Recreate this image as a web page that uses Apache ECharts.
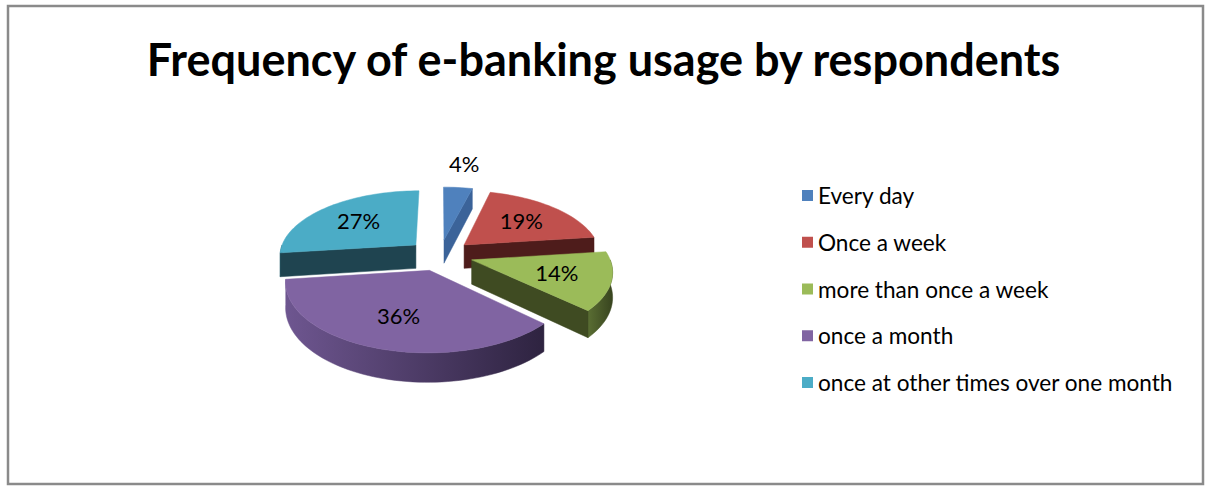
<!DOCTYPE html>
<html>
<head>
<meta charset="utf-8">
<style>
  html, body { margin: 0; padding: 0; background: #fff; }
  #chart { width: 1207px; height: 486px; }
</style>
<script src="https://cdn.jsdelivr.net/npm/echarts@6/dist/echarts.min.js"></script>
</head>
<body>
<div id="chart"></div>
<script>
// Survey answers: how often respondents use e-banking (percent of respondents)
const categories = [
  'Every day',
  'Once a week',
  'more than once a week',
  'once a month',
  'once at other times over one month'
];
const values = [4, 19, 14, 36, 27];

// Slice colours: top face, cut faces, outer wall (light -> dark)
const topColors  = ['#4F81BD', '#C0504D', '#9BBB59', '#8064A2', '#4BACC6'];
const cutColors  = ['#3B6399', '#4E1C1B', '#3F4B22', '#3C2F4F', '#1F4450'];
const wallLight  = ['#43699C', '#8E3B39', '#5A6E33', '#6E5690', '#2F7C90'];
const wallDark   = ['#2C4A72', '#5A2524', '#38441F', '#2E2340', '#1D4B58'];

// Geometry of the tilted, exploded pie (pixels)
const PIE = {
  cx: 440, cy: 255,     // centre of the un-exploded disk
  rx: 137, ry: 65,      // disk radii at mid depth
  depth: 24,            // thickness of the disk
  persp: 0.15,          // perspective: far side smaller, near side bigger
  explode: 0.24,        // slice pull-out, in radius units
  step: Math.PI / 90
};

const total = values.reduce((a, b) => a + b, 0);
const starts = [];
values.reduce((acc, v, i) => { starts[i] = acc; return acc + v; }, 0);

function sliceAngles(i) {
  const a0 = 2 * Math.PI * starts[i] / total;          // clockwise from 12 o'clock
  const a1 = 2 * Math.PI * (starts[i] + values[i]) / total;
  return { a0, a1, mid: (a0 + a1) / 2 };
}

// Projects a point of the disk (polar r, a in radius units; down = 0 top, 1 bottom)
function proj(r, a, off, down) {
  const X = r * Math.sin(a) + off.x;
  const Z = r * Math.cos(a) + off.z;
  const s = 1 / (1 + PIE.persp * Z);
  return [PIE.cx + PIE.rx * X * s, PIE.cy + (-PIE.ry * Z + PIE.depth * down) * s];
}

function arc(a0, a1, off, down) {
  const pts = [];
  const n = Math.max(2, Math.ceil((a1 - a0) / PIE.step));
  for (let k = 0; k <= n; k++) pts.push(proj(1, a0 + (a1 - a0) * k / n, off, down));
  return pts;
}

function renderSlice(i) {
  const { a0, a1, mid } = sliceAngles(i);
  const off = { x: PIE.explode * Math.sin(mid), z: PIE.explode * Math.cos(mid) };
  const children = [];
  const poly = (points, fill) => children.push({
    type: 'polygon', shape: { points }, style: { fill, stroke: fill, lineWidth: 0.5 }
  });

  // outer wall, front half only
  const w0 = Math.max(a0, Math.PI / 2), w1 = Math.min(a1, 3 * Math.PI / 2);
  if (w0 < w1) {
    const top = arc(w0, w1, off, 0);
    const bottom = arc(w0, w1, off, 1).reverse();
    const xs = top.map(p => p[0]);
    const minX = Math.min.apply(null, xs), maxX = Math.max.apply(null, xs);
    poly(top.concat(bottom), {
      type: 'linear', x: minX, y: 0, x2: maxX, y2: 0, global: true,
      colorStops: [{ offset: 0, color: wallLight[i] }, { offset: 1, color: wallDark[i] }]
    });
  }
  // cut faces that face the viewer
  const cut = a => [proj(0, a, off, 0), proj(1, a, off, 0), proj(1, a, off, 1), proj(0, a, off, 1)];
  if (Math.sin(a0) < -1e-6) poly(cut(a0), cutColors[i]);
  if (Math.sin(a1) > 1e-6) poly(cut(a1), cutColors[i]);

  // top face
  poly([proj(0, 0, off, 0)].concat(arc(a0, a1, off, 0)), topColors[i]);

  // percentage label
  const lr = values[i] < 6 ? 1.55 : 0.62;
  const lp = proj(lr, mid, off, 0);
  children.push({
    type: 'text',
    style: {
      text: values[i] + '%', x: lp[0], y: lp[1],
      fill: '#000', font: '22px Lato', align: 'center', verticalAlign: 'middle',
      textAlign: 'center', textVerticalAlign: 'middle'
    }
  });
  return { type: 'group', children };
}

// Back-to-front drawing order from the depth of each slice's centre
const depthOf = i => Math.cos(sliceAngles(i).mid);
const order = categories.map((_, i) => i).sort((p, q) => depthOf(q) - depthOf(p));

const series = categories.map((name, i) => ({
  type: 'custom',
  name,
  coordinateSystem: 'none',
  silent: true,
  z: 2 + order.indexOf(i),
  itemStyle: { color: topColors[i] },
  data: [values[i]],
  renderItem: () => renderSlice(i)
}));

const chart = echarts.init(document.getElementById('chart'), null, { renderer: 'svg' });
chart.setOption({
  backgroundColor: '#fff',
  animation: false,
  title: {
    text: 'Frequency of e-banking usage by respondents',
    left: 'center', top: 31,
    textStyle: { fontFamily: 'Lato', fontWeight: 'bold', fontSize: 45, color: '#000' }
  },
  legend: {
    data: categories,
    orient: 'vertical',
    left: 797, top: 179,
    icon: 'rect', itemWidth: 11, itemHeight: 11, itemGap: 23.75,
    selectedMode: false,
    textStyle: { fontFamily: 'Lato', fontSize: 22.6, lineHeight: 22, color: '#000' }
  },
  graphic: [{
    type: 'rect', silent: true,
    shape: { x: 8, y: 6, width: 1195, height: 478 },
    style: { fill: 'none', stroke: '#8a8a8a', lineWidth: 2.5 }
  }],
  series
});
</script>
</body>
</html>
